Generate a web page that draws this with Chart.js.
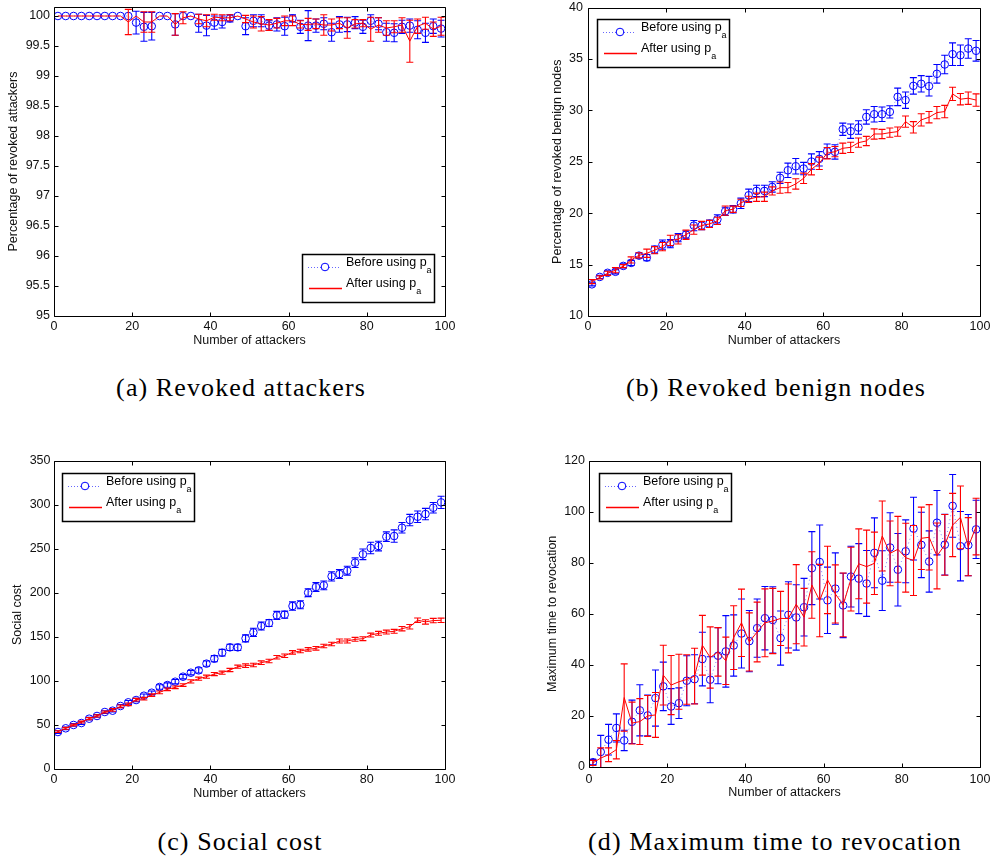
<!DOCTYPE html>
<html>
<head>
<meta charset="utf-8">
<script src="https://cdn.jsdelivr.net/npm/chart.js@4.4.1/dist/chart.umd.min.js"></script>
<style>
  html, body { margin: 0; padding: 0; background: #fff; }
  #page { position: relative; width: 992px; height: 859px; overflow: hidden; background: #fff; }
  canvas { position: absolute; }
  .cap { position: absolute; font-family: "Liberation Serif", serif; font-size: 26px; line-height: 30px;
         letter-spacing: 1.1px; color: #000; white-space: nowrap; transform: translateX(-50%); }
</style>
</head>
<body>
<div id="page">
  <canvas id="chartA" width="470" height="360" style="left:0px;top:0px"></canvas>
  <canvas id="chartB" width="457" height="360" style="left:535px;top:0px"></canvas>
  <canvas id="chartC" width="470" height="380" style="left:0px;top:430px"></canvas>
  <canvas id="chartD" width="457" height="380" style="left:535px;top:430px"></canvas>
  <div class="cap" style="left:241px;top:373px">(a) Revoked attackers</div>
  <div class="cap" style="left:776px;top:373px">(b) Revoked benign nodes</div>
  <div class="cap" style="left:240px;top:827px">(c) Social cost</div>
  <div class="cap" style="left:775px;top:827px">(d) Maximum time to revocation</div>
</div>
<script>
// x values: number of attackers
const attackers = [1, 3, 5, 7, 9, 11, 13, 15, 17, 19, 21, 23, 25, 27, 29, 31, 33, 35, 37, 39,
  41, 43, 45, 47, 49, 51, 53, 55, 57, 59, 61, 63, 65, 67, 69, 71, 73, 75, 77, 79,
  81, 83, 85, 87, 89, 91, 93, 95, 97, 99];

const seriesNames = ['Before using p', 'After using p'];
const seriesSub = 'a';
const xTitle = 'Number of attackers';
const xTicks = [0, 20, 40, 60, 80, 100];

// (a) revoked attackers (%)
const yTicksA = [95, 95.5, 96, 96.5, 97, 97.5, 98, 98.5, 99, 99.5, 100];
const attBefore = [100, 100, 100, 100, 100, 100, 100, 100, 100, 100,
  99.89, 99.82, 99.83, 100, 100, 99.86, 100, 100, 99.88, 99.84,
  99.89, 99.90, 99.96, 100, 99.83, 99.92, 99.92, 99.84, 99.86, 99.83,
  99.96, 99.82, 99.84, 99.84, 99.87, 99.73, 99.86, 99.86, 99.89, 99.82,
  99.92, 99.87, 99.73, 99.72, 99.82, 99.84, 99.77, 99.72, 99.83, 99.79];
const attBeforeErr = [0, 0, 0, 0, 0, 0, 0, 0, 0, 0,
  0.19, 0.24, 0.23, 0, 0, 0.18, 0, 0, 0.15, 0.17,
  0.11, 0.1, 0.06, 0, 0.14, 0.1, 0.1, 0.08, 0.11, 0.15,
  0.06, 0.11, 0.25, 0.11, 0.1, 0.15, 0.13, 0.12, 0.1, 0.11,
  0.1, 0.1, 0.15, 0.15, 0.11, 0.11, 0.15, 0.16, 0.12, 0.14];
const attAfter = [100, 100, 100, 100, 100, 100, 100, 100, 100, 99.9,
  100, 99.9, 99.9, 100, 100, 99.86, 99.97, 100, 99.95, 99.92,
  99.98, 99.97, 99.97, 100, 99.95, 99.9, 99.87, 99.85, 99.88, 99.92,
  99.92, 99.86, 99.86, 99.87, 99.85, 99.85, 99.88, 99.8, 99.87, 99.88,
  99.78, 99.85, 99.8, 99.82, 99.85, 99.58, 99.83, 99.88, 99.78, 99.83];
const attAfterErr = [0, 0, 0, 0, 0, 0, 0, 0, 0, 0.21,
  0, 0.17, 0.17, 0, 0, 0.18, 0.1, 0, 0.08, 0.1,
  0.05, 0.05, 0.05, 0, 0.06, 0.1, 0.12, 0.09, 0.08, 0.08,
  0.08, 0.06, 0.1, 0.08, 0.17, 0.1, 0.09, 0.17, 0.07, 0.06,
  0.2, 0.12, 0.12, 0.1, 0.12, 0.35, 0.12, 0.1, 0.12, 0.15];

// (b) revoked benign nodes (%)
const yTicksB = [10, 15, 20, 25, 30, 35, 40];
const benignBefore = [13.08, 13.8, 14.2, 14.3, 14.87, 15.16, 15.87, 15.68, 16.45, 16.94,
  17.04, 17.62, 17.91, 18.79, 18.79, 18.98, 19.4, 20.18, 20.38, 20.96,
  21.74, 22.16, 22.16, 22.55, 23.43, 24.17, 24.56, 24.34, 25.02, 25.28,
  26.02, 25.96, 28.16, 27.97, 28.33, 29.36, 29.62, 29.62, 29.85, 31.31,
  30.99, 32.38, 32.58, 32.35, 33.55, 34.46, 35.46, 35.36, 36.01, 35.79];
const benignBeforeErr = [0.15, 0.15, 0.2, 0.2, 0.2, 0.25, 0.25, 0.3, 0.35, 0.45,
  0.4, 0.4, 0.35, 0.5, 0.4, 0.35, 0.45, 0.4, 0.35, 0.5,
  0.6, 0.55, 0.55, 0.5, 0.55, 0.7, 0.75, 0.6, 0.75, 0.7,
  0.7, 0.7, 0.6, 0.7, 0.65, 0.7, 0.75, 0.7, 0.6, 0.85,
  0.8, 0.8, 0.8, 0.95, 0.9, 0.9, 1.1, 1.0, 0.95, 1.0];
const benignAfter = [13.35, 13.75, 14.15, 14.45, 14.85, 15.45, 15.9, 16.1, 16.4, 16.75,
  17.35, 17.45, 17.9, 18.4, 18.8, 18.95, 19.25, 20.25, 20.38, 21.0,
  21.35, 21.55, 21.6, 22.16, 22.48, 22.48, 22.84, 23.39, 24.27, 24.85,
  25.83, 25.98, 26.31, 26.4, 26.86, 27.02, 27.7, 27.7, 27.83, 27.93,
  28.9, 28.35, 29.07, 29.33, 29.78, 29.88, 31.6, 31.08, 31.18, 31.0];
const benignAfterErr = [0.2, 0.15, 0.2, 0.25, 0.15, 0.3, 0.25, 0.4, 0.35, 0.4,
  0.5, 0.45, 0.45, 0.45, 0.4, 0.35, 0.35, 0.45, 0.3, 0.35,
  0.3, 0.4, 0.45, 0.4, 0.55, 0.5, 0.5, 0.5, 0.55, 0.6,
  0.55, 0.5, 0.5, 0.5, 0.45, 0.45, 0.5, 0.45, 0.45, 0.45,
  0.55, 0.55, 0.6, 0.55, 0.6, 0.6, 0.65, 0.55, 0.6, 0.6];

// (c) social cost
const yTicksC = [0, 50, 100, 150, 200, 250, 300, 350];
const costBefore = [42, 46.2, 50, 52.2, 57.1, 60.2, 64.7, 66.2, 71.5, 75.7,
  78.3, 83.2, 86.6, 93.1, 95.3, 99.1, 104.8, 109.3, 112, 119.6,
  125.2, 132, 138.1, 138.1, 148.3, 155.1, 162.3, 165.7, 174.4, 175.2,
  185, 186.5, 200.2, 206.6, 208.5, 218.7, 221.3, 225.1, 234.2, 243.7,
  250.9, 253.1, 263.7, 264.5, 273.9, 282.6, 286.4, 289.4, 296.6, 302.7];
const costBeforeErr = [1.5, 1.5, 1.5, 1.5, 1.5, 1.5, 1.5, 1.5, 1.8, 2,
  2, 2, 2, 2.5, 2.5, 2.5, 2.5, 2.5, 3, 3,
  3.5, 3.8, 3.5, 3.5, 4, 4.7, 4.5, 4, 4.5, 4,
  4.7, 4.5, 4.5, 5, 5, 5.3, 5, 5, 5.5, 6,
  6.5, 5.5, 5.5, 7, 6, 6.5, 6.5, 6.5, 6, 7];
const costAfter = [42.4, 46.2, 50, 53.3, 57.1, 60.2, 64.7, 67, 71.1, 73.4,
  78.7, 79.8, 84, 87, 90.5, 92.7, 95.3, 99.5, 102.5, 104.8,
  107.8, 109.3, 112.4, 116.1, 117.3, 118, 120.7, 122.6, 126.8, 128.6,
  132.4, 133.9, 135.8, 137, 139.6, 141.9, 145.3, 145.3, 147.2, 147.9,
  152.1, 154, 155.5, 156.3, 159.3, 161.5, 169, 167, 168.5, 168.8];
const costAfterErr = [1, 1, 1, 1, 1.2, 1.2, 1.2, 1.5, 1.5, 1.5,
  1.5, 1.5, 1.5, 1.5, 1.5, 1.5, 1.5, 1.8, 1.8, 1.8,
  1.8, 1.8, 1.8, 1.8, 2, 2, 2, 2, 2, 2,
  2, 2, 2, 2, 2, 2, 2.2, 2.2, 2.2, 2.2,
  2.2, 2.2, 2.2, 2.2, 2.5, 2.5, 2.5, 2.5, 2.5, 2.5];

// (d) maximum time to revocation
const yTicksD = [0, 20, 40, 60, 80, 100, 120];
const timeBefore = [1.9, 5.9, 10.7, 15.3, 10.4, 17.7, 22.2, 20.2, 27, 31.6,
  23.7, 25, 33.8, 34.4, 42.3, 34.2, 43.6, 45.3, 47.6, 52.3,
  49.3, 54.4, 58.3, 57.6, 50.5, 59.6, 58.6, 62.6, 77.9, 80.3,
  65.3, 69.9, 63.3, 74.6, 73.8, 71.9, 83.9, 73, 86, 77.3,
  84.5, 93.4, 87, 80.5, 95.7, 87.1, 102.3, 86.5, 86.9, 93.1];
const timeBeforeErr = [1, 6.5, 6, 5.5, 4, 8.5, 10, 8, 11, 9.5,
  7, 6, 9.8, 9.6, 10.5, 9, 11, 14, 12, 13.5,
  12, 11.4, 12.4, 13, 10.6, 13, 12.8, 11.3, 14.3, 14.5,
  13, 14, 12.6, 11.9, 13.7, 12.9, 13.7, 11.7, 13.6, 14.2,
  12.3, 12.3, 12.8, 12, 12.6, 11.9, 12.3, 13.6, 12, 11.4];
const timeAfter = [1.6, 3.5, 4.8, 6.8, 27.2, 17.2, 17.8, 20, 20.4, 36,
  32.1, 33.4, 34.3, 35.6, 47.7, 42.9, 45.1, 41.6, 50.7, 56.5,
  49, 52.9, 56.5, 57.2, 58.2, 58.2, 63.8, 58.7, 71.3, 65.2,
  73.3, 67.8, 63.5, 73.6, 79.6, 78.5, 79.8, 90.5, 83.7, 85.3,
  82, 80.9, 89.6, 90, 82.7, 87, 94.8, 97.8, 86.3, 94.2];
const timeAfterErr = [1, 4, 2.7, 3.6, 13.2, 8.2, 9, 8, 8.8, 11.7,
  11.6, 10.8, 9.7, 10.9, 11.7, 12, 9.5, 9.3, 12.5, 13.2,
  11.4, 11.7, 13.3, 12.8, 10.6, 13.5, 15.5, 11.3, 13, 14.2,
  13.2, 11.4, 12.5, 12.5, 13.7, 14.3, 12.2, 13.7, 12.7, 12.9,
  13.5, 13.7, 12.2, 12.8, 12.9, 11.9, 12.4, 12.3, 11.4, 11.1];

const FONT = "'Liberation Sans', Arial, sans-serif";
const BLUE = '#0000ff';
const RED = '#ff0000';

// error bars under each dataset
const errorBars = {
  id: 'errorBars',
  beforeDatasetDraw(chart, args) {
    const ds = chart.data.datasets[args.index];
    if (!ds.errors) return;
    const { ctx, chartArea: a, scales: { x, y } } = chart;
    ctx.save();
    ctx.beginPath();
    ctx.rect(a.left, a.top, a.right - a.left, a.bottom - a.top);
    ctx.clip();
    ctx.strokeStyle = ds.errorColor;
    ctx.lineWidth = 1.1;
    ctx.beginPath();
    ds.data.forEach((p, i) => {
      const e = ds.errors[i];
      if (!e) return;
      const px = x.getPixelForValue(p.x);
      const t = y.getPixelForValue(p.y + e);
      const b = y.getPixelForValue(p.y - e);
      ctx.moveTo(px, t); ctx.lineTo(px, b);
      ctx.moveTo(px - 3.5, t); ctx.lineTo(px + 3.5, t);
      ctx.moveTo(px - 3.5, b); ctx.lineTo(px + 3.5, b);
    });
    ctx.stroke();
    ctx.restore();
  }
};

// matlab style box with inward ticks
const boxAxes = {
  id: 'boxAxes',
  afterDatasetsDraw(chart) {
    const { ctx, chartArea: a, scales: { x, y } } = chart;
    const L = Math.round(a.left) + 0.5, R = Math.round(a.right) + 0.5;
    const T = Math.round(a.top) + 0.5, B = Math.round(a.bottom) + 0.5;
    ctx.save();
    ctx.strokeStyle = '#000';
    ctx.lineWidth = 1;
    ctx.beginPath();
    ctx.rect(L, T, R - L, B - T);
    x.ticks.forEach(t => {
      const px = Math.round(x.getPixelForValue(t.value)) + 0.5;
      ctx.moveTo(px, B); ctx.lineTo(px, B - 4);
      ctx.moveTo(px, T); ctx.lineTo(px, T + 4);
    });
    y.ticks.forEach(t => {
      const py = Math.round(y.getPixelForValue(t.value)) + 0.5;
      ctx.moveTo(L, py); ctx.lineTo(L + 4, py);
      ctx.moveTo(R, py); ctx.lineTo(R - 4, py);
    });
    ctx.stroke();
    ctx.restore();
  }
};

// legend box with subscript p_a
const paLegend = {
  id: 'paLegend',
  afterDraw(chart, args, opts) {
    const { ctx, chartArea: a } = chart;
    const w = 132, h = 48;
    const bx = Math.round(opts.corner === 'se' ? a.right - opts.dx - w : a.left + opts.dx);
    const by = Math.round(opts.corner === 'se' ? a.bottom - opts.dy - h : a.top + opts.dy);
    ctx.save();
    ctx.fillStyle = '#fff';
    ctx.fillRect(bx, by, w, h);
    ctx.strokeStyle = '#000';
    ctx.lineWidth = 1.5;
    ctx.strokeRect(bx + 0.5, by + 0.5, w, h);
    const r1 = by + 13, r2 = by + 34;
    // before sample
    ctx.lineWidth = 1;
    ctx.strokeStyle = 'rgba(0,0,255,0.6)';
    ctx.setLineDash([1, 2]);
    ctx.beginPath(); ctx.moveTo(bx + 6, r1 + 0.5); ctx.lineTo(bx + 38, r1 + 0.5); ctx.stroke();
    ctx.setLineDash([]);
    ctx.fillStyle = '#fff';
    ctx.strokeStyle = BLUE;
    ctx.beginPath(); ctx.arc(bx + 23, r1, 3.8, 0, Math.PI * 2); ctx.fill(); ctx.stroke();
    // after sample
    ctx.strokeStyle = RED;
    ctx.lineWidth = 1.5;
    ctx.beginPath(); ctx.moveTo(bx + 7, r2 + 0.5); ctx.lineTo(bx + 40, r2 + 0.5); ctx.stroke();
    // labels
    ctx.fillStyle = '#000';
    ctx.textBaseline = 'alphabetic';
    [r1, r2].forEach((ry, i) => {
      ctx.font = '12.5px ' + FONT;
      const tx = bx + 44;
      ctx.fillText(seriesNames[i], tx, ry - 1);
      const tw = ctx.measureText(seriesNames[i]).width;
      ctx.font = '9px ' + FONT;
      ctx.fillText(seriesSub, tx + tw, ry + 6);
    });
    ctx.restore();
  }
};

function pairs(ys) {
  return attackers.map((v, i) => ({ x: v, y: ys[i] }));
}

function makeChart(id, cfg) {
  return new Chart(document.getElementById(id), {
    type: 'line',
    data: {
      datasets: [
        {
          label: seriesNames[1] + seriesSub,
          data: pairs(cfg.after),
          errors: cfg.afterErr,
          errorColor: RED,
          borderColor: RED,
          borderWidth: 1,
          pointRadius: 0,
          fill: false,
          tension: 0,
          order: 0
        },
        {
          label: seriesNames[0] + seriesSub,
          data: pairs(cfg.before),
          errors: cfg.beforeErr,
          errorColor: BLUE,
          borderColor: 'rgba(0,0,255,0.5)',
          borderDash: [1, 3],
          borderWidth: 1,
          pointRadius: 3.8,
          pointBorderColor: BLUE,
          pointBackgroundColor: 'rgba(0,0,0,0)',
          pointBorderWidth: 1,
          fill: false,
          tension: 0,
          order: 1
        }
      ]
    },
    options: {
      responsive: false,
      animation: false,
      devicePixelRatio: 1,
      layout: { padding: { left: 0, top: cfg.padTop, right: cfg.padRight, bottom: 0 } },
      plugins: {
        legend: { display: false },
        tooltip: { enabled: false },
        paLegend: cfg.legend
      },
      scales: {
        x: {
          type: 'linear',
          min: 0,
          max: 100,
          afterBuildTicks: s => { s.ticks = xTicks.map(v => ({ value: v })); },
          afterFit: s => { s.height = cfg.xAxisH; s.paddingLeft = 0; s.paddingRight = 0; },
          grid: { display: false, drawTicks: false },
          border: { display: false },
          ticks: { padding: cfg.xTickPad, color: '#111', font: { family: FONT, size: 12.5 },
                   maxRotation: 0, callback: v => String(v) },
          title: { display: true, text: xTitle, color: '#111', font: { family: FONT, size: 12.5 },
                   padding: { top: 0, bottom: cfg.xTitlePad } }
        },
        y: {
          type: 'linear',
          min: cfg.yMin,
          max: cfg.yMax,
          afterBuildTicks: s => { s.ticks = cfg.yTicks.map(v => ({ value: v })); },
          afterFit: s => { s.width = cfg.yAxisW; s.paddingTop = 0; s.paddingBottom = 0; },
          grid: { display: false, drawTicks: false },
          border: { display: false },
          ticks: { padding: cfg.yTickPad, color: '#111', font: { family: FONT, size: 12.5 },
                   callback: v => String(v) },
          title: { display: true, text: cfg.yTitle, color: '#111', font: { family: FONT, size: 12.5 },
                   padding: { top: cfg.yTitlePad, bottom: 0 } }
        }
      }
    },
    plugins: [errorBars, boxAxes, paLegend]
  });
}

makeChart('chartA', {
  before: attBefore, beforeErr: attBeforeErr, after: attAfter, afterErr: attAfterErr,
  yMin: 95, yMax: 100.15, yTicks: yTicksA, yTitle: 'Percentage of revoked attackers',
  padTop: 7, padRight: 25, xAxisH: 44, yAxisW: 54,
  xTickPad: 3.5, yTickPad: 4, xTitlePad: 12, yTitlePad: 6.5,
  legend: { corner: 'se', dx: 11, dy: 14 }
});

makeChart('chartB', {
  before: benignBefore, beforeErr: benignBeforeErr, after: benignAfter, afterErr: benignAfterErr,
  yMin: 10, yMax: 40, yTicks: yTicksB, yTitle: 'Percentage of revoked benign nodes',
  padTop: 7.5, padRight: 12, xAxisH: 44, yAxisW: 53,
  xTickPad: 3.5, yTickPad: 5, xTitlePad: 12, yTitlePad: 15.5,
  legend: { corner: 'nw', dx: 9, dy: 11.5 }
});

makeChart('chartC', {
  before: costBefore, beforeErr: costBeforeErr, after: costAfter, afterErr: costAfterErr,
  yMin: 0, yMax: 350, yTicks: yTicksC, yTitle: 'Social cost',
  padTop: 30.7, padRight: 25, xAxisH: 41, yAxisW: 54,
  xTickPad: 3.5, yTickPad: 3.5, xTitlePad: 9.2, yTitlePad: 9.8,
  legend: { corner: 'nw', dx: 8, dy: 12.3 }
});

makeChart('chartD', {
  before: timeBefore, beforeErr: timeBeforeErr, after: timeAfter, afterErr: timeAfterErr,
  yMin: 0, yMax: 120, yTicks: yTicksD, yTitle: 'Maximum time to revocation',
  padTop: 30.7, padRight: 12, xAxisH: 43, yAxisW: 54,
  xTickPad: 5.5, yTickPad: 4, xTitlePad: 9.5, yTitlePad: 10.2,
  legend: { corner: 'nw', dx: 10, dy: 12.3 }
});
</script>
</body>
</html>
